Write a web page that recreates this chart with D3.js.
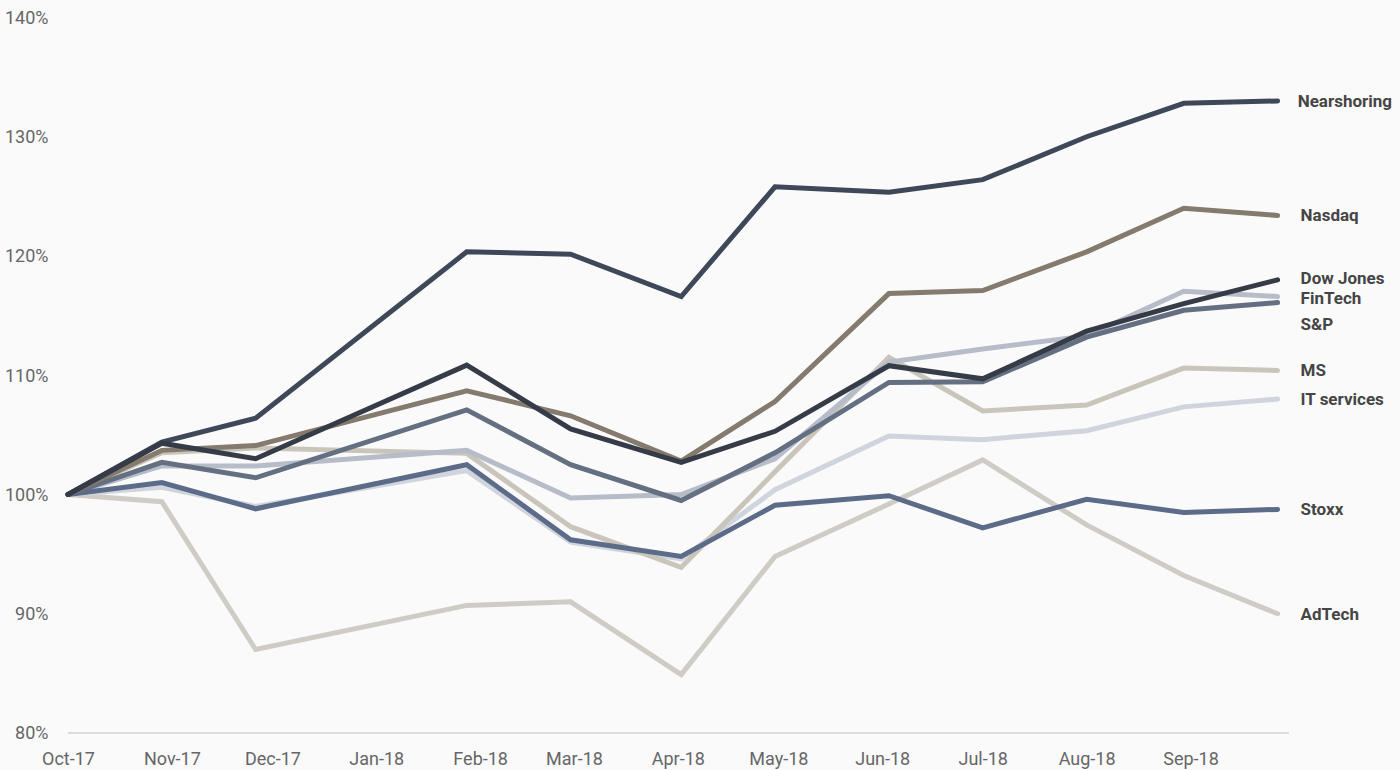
<!DOCTYPE html>
<html>
<head>
<meta charset="utf-8">
<script src="https://cdn.jsdelivr.net/npm/d3@7"></script>
<style>
  html, body { margin: 0; padding: 0; background: #fafafa; }
  svg { display: block; }
  .tick text { font-family: Roboto, "Noto Sans", sans-serif; }
</style>
</head>
<body>
<svg id="chart" width="1400" height="770"></svg>
<script>
// Observation dates (month-end snapshots)
const dates = ["2017-10-01", "2017-10-29", "2017-11-26", "2018-01-28", "2018-02-28", "2018-04-02",
               "2018-04-30", "2018-06-03", "2018-07-01", "2018-08-01", "2018-08-30", "2018-09-27"];

// Indexed performance, start = 100%
const nearshoring = [100, 104.4, 106.4, 120.35, 120.15, 116.6, 125.8, 125.35, 126.4, 130.0, 132.8, 133.0];
const nasdaq      = [100, 103.7, 104.1, 108.7, 106.6, 102.8, 107.8, 116.85, 117.1, 120.35, 124.0, 123.4];
const dowJones    = [100, 104.3, 103.0, 110.85, 105.5, 102.7, 105.3, 110.8, 109.7, 113.7, 116.0, 118.0];
const finTech     = [100, 102.4, 102.4, 103.7, 99.7, 100.0, 103.0, 111.1, 112.2, 113.3, 117.05, 116.6];
const sp          = [100, 102.7, 101.4, 107.1, 102.5, 99.5, 103.5, 109.4, 109.45, 113.2, 115.45, 116.1];
const ms          = [100, 103.5, 103.9, 103.45, 97.3, 93.9, 101.9, 111.5, 107.0, 107.5, 110.6, 110.4];
const itServices  = [100, 100.6, 99.0, 102.0, 96.0, 94.6, 100.4, 104.9, 104.6, 105.35, 107.35, 108.0];
const stoxx       = [100, 101.0, 98.8, 102.5, 96.2, 94.8, 99.1, 99.9, 97.2, 99.6, 98.5, 98.75];
const adTech      = [100, 99.4, 87.0, 90.7, 91.0, 84.9, 94.8, 99.2, 102.9, 97.45, 93.2, 90.0];

const seriesNames = ["AdTech", "IT services", "MS", "FinTech", "Stoxx", "S&P", "Nasdaq", "Nearshoring", "Dow Jones"];
const seriesValues = [adTech, itServices, ms, finTech, stoxx, sp, nasdaq, nearshoring, dowJones];
const seriesColors = ["#cfccc5", "#d0d4dc", "#c9c5bb", "#b6bcc8", "#5b6b88", "#646f82", "#847a6e", "#3e4858", "#363c47"];

const yTicks = [80, 90, 100, 110, 120, 130, 140];

// label nudges (px) where end labels would collide
const labelNudge = { "S&P": 22, "Dow Jones": -2, "FinTech": 2 };

const parse = d3.timeParse("%Y-%m-%d");
const xDates = dates.map(parse);

const svg = d3.select("#chart");

const x = d3.scaleTime()
  .domain([parse("2017-10-01"), parse("2018-10-01")])
  .range([68, 1291]);

const y = d3.scaleLinear()
  .domain([80, 140])
  .range([733, 17.5]);

// baseline
svg.append("line")
  .attr("x1", x.range()[0]).attr("x2", x.range()[1] - 2)
  .attr("y1", y(80)).attr("y2", y(80))
  .attr("stroke", "#dcdcdc").attr("stroke-width", 2);

// x axis
const monthTicks = d3.timeMonth.range(parse("2017-10-01"), parse("2018-10-01"));
const xAxis = svg.append("g")
  .attr("transform", `translate(0,${y(80)})`)
  .call(d3.axisBottom(x).tickValues(monthTicks).tickFormat(d3.timeFormat("%b-%y")).tickSize(0).tickPadding(19));
xAxis.select(".domain").remove();
xAxis.selectAll("text").attr("font-size", 18).attr("fill", "#666");

// y axis
const yAxis = svg.append("g")
  .attr("transform", `translate(68,0)`)
  .call(d3.axisLeft(y).tickValues(yTicks).tickFormat(d => d + "%").tickSize(0).tickPadding(19.5));
yAxis.select(".domain").remove();
yAxis.selectAll("text").attr("font-size", 18).attr("fill", "#666");

// lines
const line = d3.line()
  .x((d, i) => x(xDates[i]))
  .y(d => y(d));

svg.append("g").selectAll("path")
  .data(seriesValues)
  .join("path")
  .attr("d", d => line(d))
  .attr("fill", "none")
  .attr("stroke", (d, i) => seriesColors[i])
  .attr("stroke-width", 5)
  .attr("stroke-linecap", "round")
  .attr("stroke-linejoin", "miter");

// end labels
const last = xDates.length - 1;
const labels = svg.append("g").selectAll("text")
  .data(seriesNames)
  .join("text")
  .attr("x", x(xDates[last]) + 23)
  .attr("y", (d, i) => y(seriesValues[i][last]) + (labelNudge[d] || 0))
  .attr("dy", "0.35em")
  .attr("font-family", "Roboto, 'Noto Sans', sans-serif")
  .attr("font-weight", 700)
  .attr("font-size", 17)
  .attr("fill", "#454545")
  .text(d => d);

// keep long labels inside the canvas
labels.each(function() {
  const w = this.getComputedTextLength();
  const xx = +this.getAttribute("x");
  if (xx + w > 1392) this.setAttribute("x", 1392 - w);
});
</script>
</body>
</html>
